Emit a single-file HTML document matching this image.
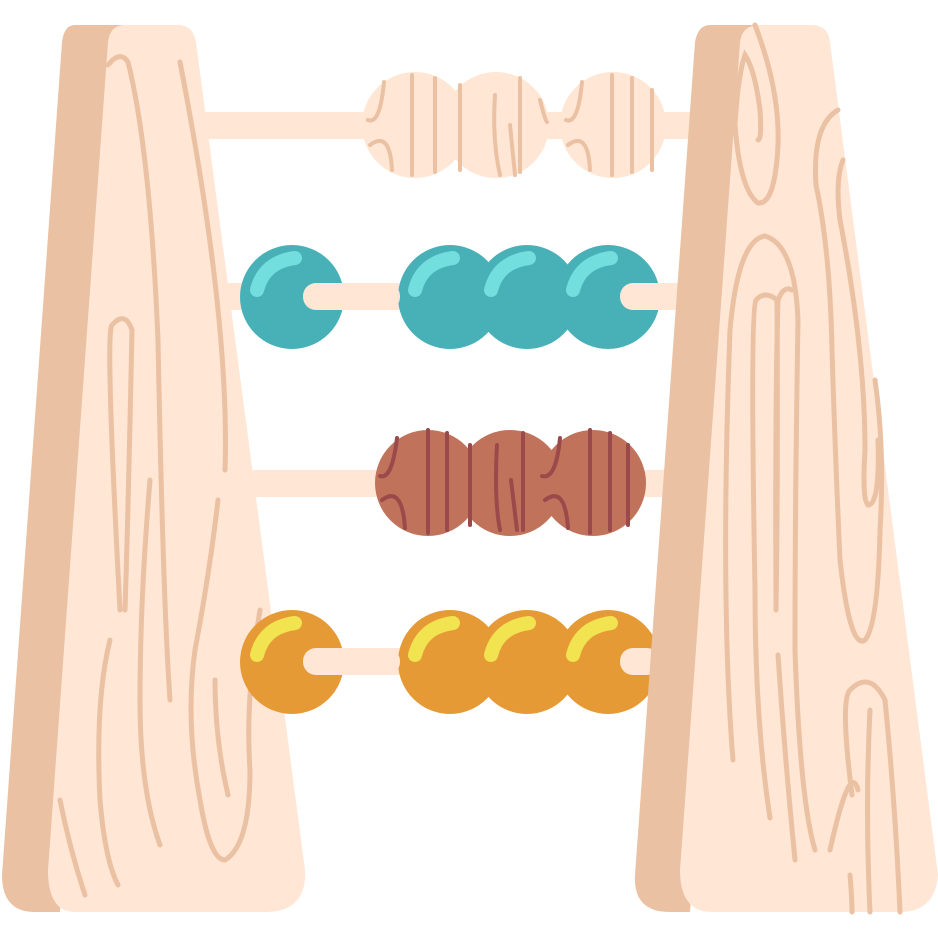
<!DOCTYPE html>
<html><head><style>html,body{margin:0;padding:0;background:#fff}svg{display:block}</style></head>
<body>
<svg width="938" height="938" viewBox="0 0 938 938" xmlns="http://www.w3.org/2000/svg">
<!-- rods -->
<rect x="190" y="112" width="510" height="27" fill="#FFE6D5"/>
<rect x="190" y="283" width="490" height="27" fill="#FFE6D5"/>
<rect x="150" y="470" width="520" height="27" fill="#FFE6D5"/>
<rect x="150" y="648" width="510" height="27" fill="#FFE6D5"/>
<!-- left post -->
<path d="M75 25 H125 L60 912 H35 Q2 912 2 875 L62 42 Q64 25 75 25Z" fill="#EBC1A3"/>
<path d="M125 25 H178 Q193 25 196 42 L305 870 Q307 912 265 912 H75 Q48 912 48 870 L108 42 Q110 25 125 25Z" fill="#FFE6D5"/>
<g stroke="#EBC1A3" stroke-width="5" fill="none" stroke-linecap="round">
<path d="M108 65 Q120 50 128 62 Q150 150 158 340 Q163 600 170 700"/>
<path d="M180 62 Q230 320 225 470"/>
<path d="M120 610 Q105 330 112 325 Q125 310 132 330 Q128 520 125 610"/>
<path d="M150 480 Q140 600 140 700 Q140 790 160 845"/>
<path d="M218 500 Q210 570 195 650 Q185 720 200 800 Q210 860 225 860 Q250 845 250 770 Q245 700 260 610"/>
<path d="M215 680 Q215 740 228 795"/>
<path d="M110 640 Q95 700 100 800 Q105 860 118 885"/>
<path d="M60 800 Q70 850 85 895"/>
</g>
<!-- top beads -->
<g>
<circle cx="415" cy="125" r="53" fill="#FFE6D5"/>
<circle cx="496" cy="125" r="53" fill="#FFE6D5"/>
<circle cx="613" cy="125" r="53" fill="#FFE6D5"/>
<g stroke="#EBC1A3" stroke-width="4" stroke-linecap="round" fill="none">
<path d="M412 75 V175"/><path d="M435 78 V172"/><path d="M460 85 V170"/><path d="M495 95 Q492 140 500 175"/><path d="M520 78 V172"/><path d="M510 125 L515 175"/>
<path d="M384 82 Q380 125 368 120"/><path d="M370 145 Q390 130 392 170"/>
<path d="M612 75 V175"/><path d="M632 78 V172"/><path d="M652 90 V170"/>
<path d="M582 82 Q578 125 566 120"/><path d="M568 145 Q588 130 590 170"/>
<path d="M540 100 Q545 120 547 122"/>
</g>
</g>
<!-- teal beads -->
<g>
<circle cx="292" cy="297" r="52" fill="#48B1B8"/>
<circle cx="450" cy="297" r="52" fill="#48B1B8"/>
<circle cx="527" cy="297" r="52" fill="#48B1B8"/>
<circle cx="608" cy="297" r="52" fill="#48B1B8"/>
<g stroke="#72DEDD" stroke-width="14" stroke-linecap="round" fill="none">
<path d="M257 290 Q264 262 295 258"/><path d="M415 290 Q422 262 453 258"/><path d="M491 290 Q498 262 529 258"/><path d="M573 290 Q580 262 611 258"/>
</g>
<rect x="303" y="283" width="97" height="27" rx="13" fill="#FFE6D5"/>
<rect x="620" y="283" width="60" height="27" rx="13" fill="#FFE6D5"/>
</g>
<!-- brown beads -->
<g>
<circle cx="428" cy="483" r="53" fill="#C0735A"/>
<circle cx="510" cy="483" r="53" fill="#C0735A"/>
<circle cx="593" cy="483" r="53" fill="#C0735A"/>
<g stroke="#9A4A4A" stroke-width="4" stroke-linecap="round" fill="none">
<path d="M428 430 V533"/><path d="M447 433 V530"/><path d="M470 445 V525"/><path d="M497 445 Q494 500 500 530"/><path d="M523 433 V530"/><path d="M511 480 L517 530"/>
<path d="M397 438 Q392 480 380 476"/><path d="M382 500 Q402 485 405 528"/>
<path d="M590 430 V533"/><path d="M610 433 V530"/><path d="M628 445 V525"/>
<path d="M560 438 Q556 480 542 476"/><path d="M545 500 Q565 485 568 528"/>
</g>
</g>
<!-- orange beads -->
<g>
<circle cx="292" cy="662" r="52" fill="#E69A35"/>
<circle cx="450" cy="662" r="52" fill="#E69A35"/>
<circle cx="527" cy="662" r="52" fill="#E69A35"/>
<circle cx="608" cy="662" r="52" fill="#E69A35"/>
<g stroke="#F2E350" stroke-width="14" stroke-linecap="round" fill="none">
<path d="M257 655 Q264 627 295 623"/><path d="M415 655 Q422 627 453 623"/><path d="M491 655 Q498 627 529 623"/><path d="M573 655 Q580 627 611 623"/>
</g>
<rect x="303" y="648" width="97" height="27" rx="13" fill="#FFE6D5"/>
<rect x="620" y="648" width="40" height="27" rx="13" fill="#FFE6D5"/>
</g>
<!-- right post (on top of beads) -->
<path d="M710 25 H760 L690 912 H670 Q633 912 635 875 L695 42 Q698 25 710 25Z" fill="#EBC1A3"/>
<path d="M760 25 H812 Q828 25 830 42 L938 875 Q935 912 900 912 H712 Q680 912 680 870 L740 42 Q742 25 760 25Z" fill="#FFE6D5"/>
<g stroke="#EBC1A3" stroke-width="5" fill="none" stroke-linecap="round">
<path d="M755 25 Q780 90 778 145 Q775 205 758 203 Q740 190 735 125 Q738 75 745 55 Q755 70 760 110 Q762 140 758 140"/>
<path d="M838 110 Q812 125 816 185 Q830 250 832 350 Q835 450 840 560 Q850 650 865 640 Q878 625 880 530 Q885 450 875 380"/>
<path d="M843 160 Q835 180 840 220 Q865 350 865 450 Q862 500 868 505 Q880 505 878 440"/>
<path d="M733 760 Q720 600 730 330 Q738 240 765 236 Q795 245 798 320 Q795 500 795 650 Q800 800 815 850"/>
<path d="M776 605 Q775 400 778 300 Q784 285 792 290"/>
<path d="M755 590 Q750 310 756 300 Q765 290 777 300 Q778 480 776 610"/>
<path d="M755 590 Q755 720 770 818"/>
<path d="M778 655 Q785 760 795 860"/>
<path d="M852 795 Q840 700 850 690 Q870 670 885 700 Q895 800 900 912"/>
<path d="M870 710 Q865 810 870 912"/>
<path d="M850 875 Q852 900 852 912"/>
<path d="M830 850 Q850 760 858 790"/>
</g>
</svg>
</body></html>
